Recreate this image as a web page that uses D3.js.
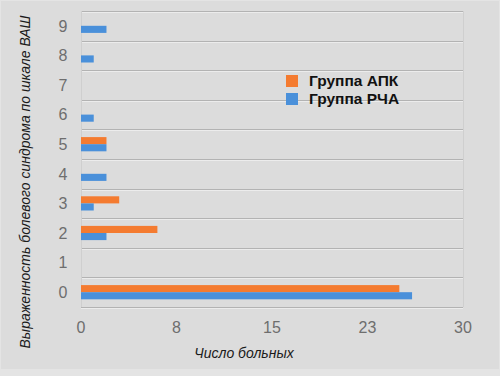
<!DOCTYPE html>
<html>
<head>
<meta charset="utf-8">
<script src="https://cdn.jsdelivr.net/npm/d3@7"></script>
<style>
  html, body { margin: 0; padding: 0; background: #e4e4e4; }
  svg { display: block; }
</style>
</head>
<body>
<script>
// данные
const categories = ["0", "1", "2", "3", "4", "5", "6", "7", "8", "9"];
const seriesNames = ["Группа АПК", "Группа РЧА"];
const apk = [25, 0, 6, 3, 0, 2, 0, 0, 0, 0];
const rfa = [26, 0, 2, 1, 2, 2, 1, 0, 1, 2];
const xTicks = [0, 7.5, 15, 22.5, 30];
const colors = ["#f47b30", "#4a90da"];

const width = 500, height = 376;
const margin = { top: 11, right: 37, bottom: 69, left: 81 };

const svg = d3.select("body").append("svg")
  .attr("width", width)
  .attr("height", height);

// фон
svg.append("rect")
  .attr("x", 1).attr("y", 1)
  .attr("width", width - 2).attr("height", height - 8)
  .attr("fill", "#dcdcdc");

const x = d3.scaleLinear()
  .domain([0, 30])
  .range([margin.left, width - margin.right]);

// 9 сверху, 0 снизу
const y = d3.scaleBand()
  .domain(categories.slice().reverse())
  .range([margin.top, height - margin.bottom])
  .paddingInner(0.52)
  .paddingOuter(0.26);

const ySub = d3.scaleBand()
  .domain(seriesNames)
  .range([0, y.bandwidth()]);

// горизонтальные линии сетки на границах категорий
const step = y.step();
const gridY = d3.range(categories.length + 1).map(i => margin.top + i * step);
const grid = svg.append("g");
grid.selectAll("line.dark")
  .data(gridY)
  .join("line")
  .attr("x1", x(0)).attr("x2", x(30))
  .attr("y1", d => Math.round(d) + 0.5).attr("y2", d => Math.round(d) + 0.5)
  .attr("stroke", "#b3b3b3");
grid.selectAll("line.light")
  .data(gridY)
  .join("line")
  .attr("x1", x(0)).attr("x2", x(30))
  .attr("y1", d => Math.round(d) + 1.5).attr("y2", d => Math.round(d) + 1.5)
  .attr("stroke", "#ececec");
[x(0), x(30)].forEach(xx => {
  grid.append("line")
    .attr("x1", Math.round(xx) + 0.5).attr("x2", Math.round(xx) + 0.5)
    .attr("y1", margin.top).attr("y2", height - margin.bottom)
    .attr("stroke", "#cfcfcf");
});

// столбцы
const rows = categories.map((c, i) => ({ cat: c, values: [apk[i], rfa[i]] }));
svg.append("g")
  .selectAll("g")
  .data(rows)
  .join("g")
  .attr("transform", d => `translate(0,${y(d.cat)})`)
  .selectAll("rect")
  .data(d => d.values.map((v, j) => ({ name: seriesNames[j], value: v, j })))
  .join("rect")
  .filter(d => d.value > 0)
  .attr("x", x(0))
  .attr("y", d => ySub(d.name))
  .attr("width", d => x(d.value) - x(0))
  .attr("height", ySub.bandwidth())
  .attr("fill", d => colors[d.j]);

// подписи оси Y
svg.append("g")
  .attr("font-family", "Liberation Sans, Arial, sans-serif")
  .attr("font-size", 16)
  .attr("fill", "#6e6e6e")
  .attr("text-anchor", "middle")
  .selectAll("text")
  .data(categories)
  .join("text")
  .attr("x", 63)
  .attr("y", d => y(d) + y.bandwidth() / 2)
  .attr("dy", "0.36em")
  .text(d => d);

// подписи оси X
const fmt = d3.format(".0f");
svg.append("g")
  .attr("font-family", "Liberation Sans, Arial, sans-serif")
  .attr("font-size", 16)
  .attr("fill", "#6e6e6e")
  .attr("text-anchor", "middle")
  .selectAll("text")
  .data(xTicks)
  .join("text")
  .attr("x", d => x(d))
  .attr("y", 333)
  .text(d => fmt(d));

// названия осей
svg.append("text")
  .attr("x", 244)
  .attr("y", 358)
  .attr("text-anchor", "middle")
  .attr("font-family", "Liberation Sans, Arial, sans-serif")
  .attr("font-style", "italic")
  .attr("font-size", 14)
  .attr("fill", "#1a1a1a")
  .text("Число больных");

svg.append("text")
  .attr("transform", "translate(30,182) rotate(-90)")
  .attr("text-anchor", "middle")
  .attr("font-family", "Liberation Sans, Arial, sans-serif")
  .attr("font-style", "italic")
  .attr("font-size", 14)
  .attr("fill", "#1a1a1a")
  .text("Выраженность болевого синдрома по шкале ВАШ");

// легенда
const legend = svg.append("g")
  .attr("transform", "translate(286,75)");
legend.selectAll("rect")
  .data(seriesNames)
  .join("rect")
  .attr("x", 0)
  .attr("y", (d, i) => i * 18)
  .attr("width", 12)
  .attr("height", 12)
  .attr("fill", (d, i) => colors[i]);
legend.selectAll("text")
  .data(seriesNames)
  .join("text")
  .attr("x", 23)
  .attr("y", (d, i) => i * 18 + 11)
  .attr("font-family", "Liberation Sans, Arial, sans-serif")
  .attr("font-weight", "bold")
  .attr("font-size", 15.5)
  .attr("fill", "#111")
  .text(d => d);
</script>
</body>
</html>
